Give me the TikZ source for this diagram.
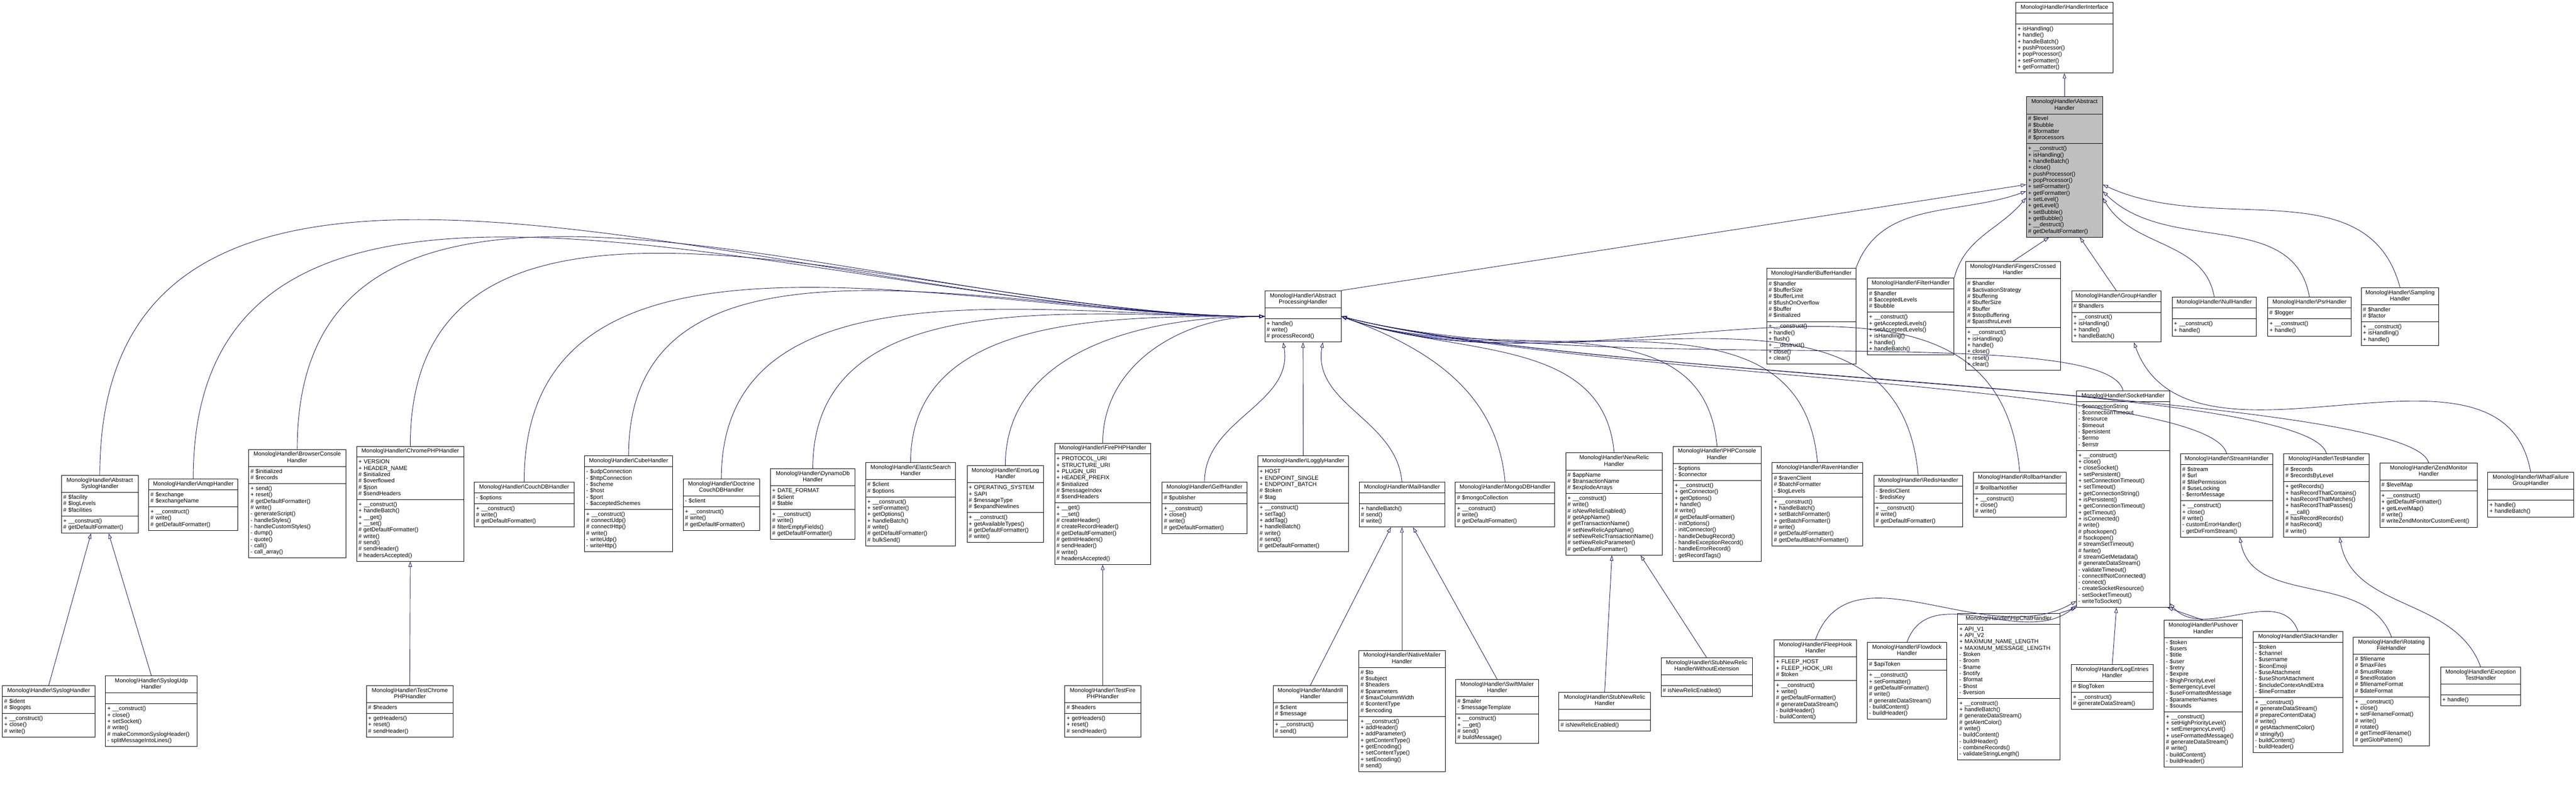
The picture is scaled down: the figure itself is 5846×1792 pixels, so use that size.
\documentclass[tikz,border=0pt]{standalone}
\usepackage{fontspec}
\setmainfont{Liberation Sans}
\usetikzlibrary{shapes.multipart,arrows.meta,calc}
\definecolor{EdgeBlue}{RGB}{25,25,112}
\definecolor{BaseGray}{RGB}{191,191,191}
\newcommand{\mh}{Monolog\textbackslash Handler\textbackslash }
\newcommand{\ct}{+ \_\_construct()}
\newcommand{\umlclass}[8][]{%
  \pgfmathsetlengthmacro\ucw{#5*0.01cm-0.08cm}%
  \node[umlbox,#1,text width=\ucw] (#2) at (#3,#4)
    {\centering\strut #6\strut\par\nodepart{two}\strut #7\strut\nodepart{three}\strut #8\strut};}

\begin{document}
\begin{tikzpicture}[
        x=0.01cm, y=-0.01cm,
        umlbox/.style={draw, line width=0.3pt, fill=white, anchor=north west,
                       rectangle split, rectangle split parts=3, align=left,
                       inner xsep=0.04cm, inner ysep=0.045cm,
                       font=\fontsize{3.7}{4.1}\selectfont},
        inh/.style={draw=EdgeBlue, line width=0.3pt,
                    -{Triangle[open,length=0.12cm,width=0.08cm]}}
    ]
        \useasboundingbox (0,0) rectangle (5846,1792);

        \umlclass{ifc}{4574}{5}{221}{\mh HandlerInterface}{}{+ isHandling()\\+ handle()\\+ handleBatch()\\+ pushProcessor()\\+ popProcessor()\\+ setFormatter()\\+ getFormatter()}
        \umlclass[fill=BaseGray]{ah}{4598}{219}{173}{\mh Abstract\\Handler}{\# \$level\\\# \$bubble\\\# \$formatter\\\# \$processors}{\ct\\+ isHandling()\\+ handleBatch()\\+ close()\\+ pushProcessor()\\+ popProcessor()\\+ setFormatter()\\+ getFormatter()\\+ setLevel()\\+ getLevel()\\+ setBubble()\\+ getBubble()\\+ \_\_destruct()\\\# getDefaultFormatter()}
        \umlclass{aph}{2870}{659}{173}{\mh Abstract\\ProcessingHandler}{}{+ handle()\\\# write()\\\# processRecord()}

        \umlclass{buffer}{4009}{608}{202}{\mh BufferHandler}{\# \$handler\\\# \$bufferSize\\\# \$bufferLimit\\\# \$flushOnOverflow\\\# \$buffer\\\# \$initialized}{\ct\\+ handle()\\+ flush()\\+ \_\_destruct()\\+ close()\\+ clear()}
        \umlclass{filter}{4237}{630}{197}{\mh FilterHandler}{\# \$handler\\\# \$acceptedLevels\\\# \$bubble}{\ct\\+ getAcceptedLevels()\\+ setAcceptedLevels()\\+ isHandling()\\+ handle()\\+ handleBatch()}
        \umlclass{fingers}{4460}{593}{215}{\mh FingersCrossed\\Handler}{\# \$handler\\\# \$activationStrategy\\\# \$buffering\\\# \$bufferSize\\\# \$buffer\\\# \$stopBuffering\\\# \$passthruLevel}{\ct\\+ isHandling()\\+ handle()\\+ close()\\+ reset()\\+ clear()}
        \umlclass{group}{4701}{659}{202}{\mh GroupHandler}{\# \$handlers}{\ct\\+ isHandling()\\+ handle()\\+ handleBatch()}
        \umlclass{null}{4929}{674}{191}{\mh NullHandler}{}{\ct\\+ handle()}
        \umlclass{psr}{5146}{674}{189}{\mh PsrHandler}{\# \$logger}{\ct\\+ handle()}
        \umlclass{sampling}{5358}{652}{176}{\mh Sampling\\Handler}{\# \$handler\\\# \$factor}{\ct\\+ isHandling()\\+ handle()}

        \umlclass{syslogbase}{139}{1078}{174}{\mh Abstract\\SyslogHandler}{\# \$facility\\\# \$logLevels\\\# \$facilities}{\ct\\\# getDefaultFormatter()}
        \umlclass{amqp}{337}{1086}{202}{\mh AmqpHandler}{\# \$exchange\\\# \$exchangeName}{\ct\\\# write()\\\# getDefaultFormatter()}
        \umlclass{browser}{564}{1019}{220}{\mh BrowserConsole\\Handler}{\# \$initialized\\\# \$records}{+ send()\\+ reset()\\\# getDefaultFormatter()\\\# write()\\- generateScript()\\- handleStyles()\\- handleCustomStyles()\\- dump()\\- quote()\\- call()\\- call\_array()}
        \umlclass{chrome}{809}{1012}{243}{\mh ChromePHPHandler}{+ VERSION\\+ HEADER\_NAME\\\# \$initialized\\\# \$overflowed\\\# \$json\\\# \$sendHeaders}{\ct\\+ handleBatch()\\+ \_\_get()\\+ \_\_set()\\\# getDefaultFormatter()\\\# write()\\\# send()\\\# sendHeader()\\\# headersAccepted()}
        \umlclass{couchdb}{1076}{1093}{226}{\mh CouchDBHandler}{- \$options}{\ct\\\# write()\\\# getDefaultFormatter()}
        \umlclass{cube}{1326}{1034}{200}{\mh CubeHandler}{- \$udpConnection\\- \$httpConnection\\- \$scheme\\- \$host\\- \$port\\- \$acceptedSchemes}{\ct\\\# connectUdp()\\\# connectHttp()\\\# write()\\- writeUdp()\\- writeHttp()}
        \umlclass{doctrine}{1550}{1086}{173}{\mh Doctrine\\CouchDBHandler}{- \$client}{\ct\\\# write()\\\# getDefaultFormatter()}
        \umlclass{dynamo}{1748}{1063}{192}{\mh DynamoDb\\Handler}{+ DATE\_FORMAT\\\# \$client\\\# \$table}{\ct\\\# write()\\\# filterEmptyFields()\\\# getDefaultFormatter()}
        \umlclass{elastic}{1964}{1049}{204}{\mh ElasticSearch\\Handler}{\# \$client\\\# \$options}{\ct\\+ setFormatter()\\+ getOptions()\\+ handleBatch()\\\# write()\\\# getDefaultFormatter()\\\# bulkSend()}
        \umlclass{errorlog}{2194}{1056}{174}{\mh ErrorLog\\Handler}{+ OPERATING\_SYSTEM\\+ SAPI\\\# \$messageType\\\# \$expandNewlines}{\ct\\+ getAvailableTypes()\\\# getDefaultFormatter()\\\# write()}
        \umlclass{firephp}{2393}{1005}{218}{\mh FirePHPHandler}{+ PROTOCOL\_URI\\+ STRUCTURE\_URI\\+ PLUGIN\_URI\\+ HEADER\_PREFIX\\\# \$initialized\\\# \$messageIndex\\\# \$sendHeaders}{+ \_\_get()\\+ \_\_set()\\\# createHeader()\\\# createRecordHeader()\\\# getDefaultFormatter()\\\# getInitHeaders()\\\# sendHeader()\\\# write()\\\# headersAccepted()}
        \umlclass{gelf}{2637}{1093}{192}{\mh GelfHandler}{\# \$publisher}{\ct\\+ close()\\\# write()\\\# getDefaultFormatter()}
        \umlclass{loggly}{2854}{1034}{206}{\mh LogglyHandler}{+ HOST\\+ ENDPOINT\_SINGLE\\+ ENDPOINT\_BATCH\\\# \$token\\\# \$tag}{\ct\\+ setTag()\\+ addTag()\\+ handleBatch()\\\# write()\\\# send()\\\# getDefaultFormatter()}
        \umlclass{mail}{3084}{1093}{194}{\mh MailHandler}{}{+ handleBatch()\\\# send()\\\# write()}
        \umlclass{mongo}{3302}{1093}{226}{\mh MongoDBHandler}{\# \$mongoCollection}{\ct\\\# write()\\\# getDefaultFormatter()}
        \umlclass{newrelic}{3553}{1027}{219}{\mh NewRelic\\Handler}{\# \$appName\\\# \$transactionName\\\# \$explodeArrays}{\ct\\\# write()\\\# isNewRelicEnabled()\\\# getAppName()\\\# getTransactionName()\\\# setNewRelicAppName()\\\# setNewRelicTransactionName()\\\# setNewRelicParameter()\\\# getDefaultFormatter()}
        \umlclass{phpconsole}{3796}{1012}{200}{\mh PHPConsole\\Handler}{- \$options\\- \$connector}{\ct\\+ getConnector()\\+ getOptions()\\+ handle()\\\# write()\\\# getDefaultFormatter()\\- initOptions()\\- initConnector()\\- handleDebugRecord()\\- handleExceptionRecord()\\- handleErrorRecord()\\- getRecordTags()}
        \umlclass{raven}{4021}{1049}{206}{\mh RavenHandler}{\# \$ravenClient\\\# \$batchFormatter\\- \$logLevels}{\ct\\+ handleBatch()\\+ setBatchFormatter()\\+ getBatchFormatter()\\\# write()\\\# getDefaultFormatter()\\\# getDefaultBatchFormatter()}
        \umlclass{redis}{4252}{1078}{201}{\mh RedisHandler}{- \$redisClient\\- \$redisKey}{\ct\\\# write()\\\# getDefaultFormatter()}
        \umlclass{rollbar}{4478}{1071}{210}{\mh RollbarHandler}{\# \$rollbarNotifier}{\ct\\+ close()\\\# write()}
        \umlclass{socket}{4712}{886}{211}{\mh SocketHandler}{- \$connectionString\\- \$connectionTimeout\\- \$resource\\- \$timeout\\- \$persistent\\- \$errno\\- \$errstr}{\ct\\+ close()\\+ closeSocket()\\+ setPersistent()\\+ setConnectionTimeout()\\+ setTimeout()\\+ getConnectionString()\\+ isPersistent()\\+ getConnectionTimeout()\\+ getTimeout()\\+ isConnected()\\\# write()\\\# pfsockopen()\\\# fsockopen()\\\# streamSetTimeout()\\\# fwrite()\\\# streamGetMetadata()\\\# generateDataStream()\\- validateTimeout()\\- connectIfNotConnected()\\- connect()\\- createSocketResource()\\- setSocketTimeout()\\- writeToSocket()}
        \umlclass{stream}{4948}{1029}{209}{\mh StreamHandler}{\# \$stream\\\# \$url\\\# \$filePermission\\\# \$useLocking\\- \$errorMessage}{\ct\\+ close()\\\# write()\\- customErrorHandler()\\- getDirFromStream()}
        \umlclass{test}{5182}{1029}{194}{\mh TestHandler}{\# \$records\\\# \$recordsByLevel}{+ getRecords()\\+ hasRecordThatContains()\\+ hasRecordThatMatches()\\+ hasRecordThatPasses()\\+ \_\_call()\\\# hasRecordRecords()\\\# hasRecord()\\\# write()}
        \umlclass{zend}{5400}{1050}{222}{\mh ZendMonitor\\Handler}{\# \$levelMap}{\ct\\+ getDefaultFormatter()\\+ getLevelMap()\\\# write()\\\# writeZendMonitorCustomEvent()}
        \umlclass{whatfailure}{5645}{1071}{195}{\mh WhatFailure\\GroupHandler}{}{+ handle()\\+ handleBatch()}

        \umlclass{syslog}{5}{1555}{210}{\mh SyslogHandler}{\# \$ident\\\# \$logopts}{\ct\\+ close()\\\# write()}
        \umlclass{syslogudp}{239}{1533}{208}{\mh SyslogUdp\\Handler}{}{\ct\\+ close()\\+ setSocket()\\\# write()\\\# makeCommonSyslogHeader()\\- splitMessageIntoLines()}
        \umlclass{testchrome}{831}{1555}{197}{\mh TestChrome\\PHPHandler}{\# \$headers}{+ getHeaders()\\+ reset()\\\# sendHeader()}
        \umlclass{testfire}{2416}{1555}{172}{\mh TestFire\\PHPHandler}{\# \$headers}{+ getHeaders()\\+ reset()\\\# sendHeader()}
        \umlclass{mandrill}{2889}{1555}{168}{\mh Mandrill\\Handler}{\# \$client\\\# \$message}{\ct\\\# send()}
        \umlclass{nativemailer}{3083}{1475}{196}{\mh NativeMailer\\Handler}{\# \$to\\\# \$subject\\\# \$headers\\\# \$parameters\\\# \$maxColumnWidth\\\# \$contentType\\\# \$encoding}{\ct\\+ addHeader()\\+ addParameter()\\+ getContentType()\\+ getEncoding()\\+ setContentType()\\+ setEncoding()\\\# send()}
        \umlclass{swiftmailer}{3303}{1541}{188}{\mh SwiftMailer\\Handler}{\# \$mailer\\- \$messageTemplate}{\ct\\+ \_\_get()\\\# send()\\\# buildMessage()}
        \umlclass{stubrelic}{3537}{1570}{208}{\mh StubNewRelic\\Handler}{}{\# isNewRelicEnabled()}
        \umlclass{stubrelicext}{3769}{1492}{207}{\mh StubNewRelic\\HandlerWithoutExtension}{}{\# isNewRelicEnabled()}
        \umlclass{fleephook}{4026}{1451}{187}{\mh FleepHook\\Handler}{+ FLEEP\_HOST\\+ FLEEP\_HOOK\_URI\\\# \$token}{\ct\\+ write()\\\# getDefaultFormatter()\\\# generateDataStream()\\- buildHeader()\\- buildContent()}
        \umlclass{flowdock}{4237}{1457}{180}{\mh Flowdock\\Handler}{\# \$apiToken}{\ct\\+ setFormatter()\\\# getDefaultFormatter()\\\# write()\\\# generateDataStream()\\- buildContent()\\- buildHeader()}
        \umlclass{hipchat}{4442}{1391}{232}{\mh HipChatHandler}{+ API\_V1\\+ API\_V2\\+ MAXIMUM\_NAME\_LENGTH\\+ MAXIMUM\_MESSAGE\_LENGTH\\- \$token\\- \$room\\- \$name\\- \$notify\\- \$format\\- \$host\\- \$version}{\ct\\+ handleBatch()\\\# generateDataStream()\\\# getAlertColor()\\\# write()\\- buildContent()\\- buildHeader()\\- combineRecords()\\- validateStringLength()}
        \umlclass{logentries}{4700}{1507}{186}{\mh LogEntries\\Handler}{\# \$logToken}{\ct\\\# generateDataStream()}
        \umlclass{pushover}{4911}{1407}{177}{\mh Pushover\\Handler}{- \$token\\- \$users\\- \$title\\- \$user\\- \$retry\\- \$expire\\- \$highPriorityLevel\\- \$emergencyLevel\\- \$useFormattedMessage\\- \$parameterNames\\- \$sounds}{\ct\\+ setHighPriorityLevel()\\+ setEmergencyLevel()\\+ useFormattedMessage()\\\# generateDataStream()\\\# write()\\- buildContent()\\- buildHeader()}
        \umlclass{slack}{5113}{1432}{203}{\mh SlackHandler}{- \$token\\- \$channel\\- \$username\\- \$iconEmoji\\- \$useAttachment\\- \$useShortAttachment\\- \$includeContextAndExtra\\- \$lineFormatter}{\ct\\\# generateDataStream()\\\# prepareContentData()\\\# write()\\\# getAttachmentColor()\\\# stringify()\\- buildContent()\\- buildHeader()}
        \umlclass{rotating}{5340}{1445}{173}{\mh Rotating\\FileHandler}{\# \$filename\\\# \$maxFiles\\\# \$mustRotate\\\# \$nextRotation\\\# \$filenameFormat\\\# \$dateFormat}{\ct\\+ close()\\+ setFilenameFormat()\\\# write()\\\# rotate()\\\# getTimedFilename()\\\# getGlobPattern()}
        \umlclass{exceptiontest}{5538}{1513}{182}{\mh Exception\\TestHandler}{}{+ handle()}

        \draw[inh] (ah.north) -- (ifc.south);
        \draw[inh] (aph.north east) -- ($(ah.west)+(0,40)$);
        \draw[inh] (buffer.north east) to[out=70,in=-160] ($(ah.west)+(0,55)$);
        \draw[inh] (filter.north east) to[out=75,in=-130] ($(ah.west)+(0,70)$);
        \draw[inh] (fingers.north) -- ($(ah.south)+(-35,0)$);
        \draw[inh] (group.north) -- ($(ah.south)+(35,0)$);
        \draw[inh] (null.north) to[out=100,in=-60] ($(ah.east)+(0,70)$);
        \draw[inh] (psr.north) to[out=100,in=-45] ($(ah.east)+(0,55)$);
        \draw[inh] (sampling.north) to[out=105,in=-25] ($(ah.east)+(0,40)$);

        \foreach \c in {syslogbase, amqp, browser, chrome, couchdb, cube, doctrine, dynamo, elastic, errorlog, firephp}
            \draw[inh] (\c.north) to[out=90,in=180] (aph.west);
        \draw[inh] (gelf.north) to[out=90,in=-80] ($(aph.south)+(-45,0)$);
        \draw[inh] (loggly.north) -- (aph.south);
        \draw[inh] (mail.north) to[out=95,in=-100] ($(aph.south)+(45,0)$);
        \foreach \c in {mongo, newrelic, phpconsole, raven, redis, rollbar}
            \draw[inh] (\c.north) to[out=95,in=-20] (aph.east);
        \foreach \c in {socket, stream, test, zend}
            \draw[inh] (\c.north) .. controls ($(\c.north)+(-40,-160)$) and (3600,860) .. (aph.east);

        \draw[inh] (syslog.north) -- ($(syslogbase.south)+(-20,0)$);
        \draw[inh] (syslogudp.north) -- ($(syslogbase.south)+(20,0)$);
        \draw[inh] (testchrome.north) -- (chrome.south);
        \draw[inh] (testfire.north) -- (firephp.south);
        \draw[inh] (mandrill.north) -- ($(mail.south)+(-25,0)$);
        \draw[inh] (nativemailer.north) -- (mail.south);
        \draw[inh] (swiftmailer.north) -- ($(mail.south)+(25,0)$);
        \draw[inh] (stubrelic.north) -- ($(newrelic.south)+(-5,0)$);
        \draw[inh] (stubrelicext.north) -- ($(newrelic.south)+(60,0)$);
        \draw[inh] (fleephook.north) to[out=70,in=-150] ($(socket.south west)+(0,-15)$);
        \draw[inh] (flowdock.north) to[out=70,in=-140] ($(socket.south west)+(0,-5)$);
        \draw[inh] (hipchat.north east) -- (socket.south west);
        \draw[inh] (logentries.north) -- ($(socket.south)+(-15,0)$);
        \draw[inh] (pushover.north) -- ($(socket.south east)+(-5,0)$);
        \draw[inh] (slack.north) to[out=110,in=-50] ($(socket.south east)+(0,-10)$);
        \draw[inh] (rotating.north) to[out=110,in=-80] ($(stream.south)+(30,0)$);
        \draw[inh] (exceptiontest.north) to[out=110,in=-80] ($(test.south)+(30,0)$);
        \draw[inh] (whatfailure.north) to[out=100,in=-70] ($(group.south)+(40,0)$);
    \end{tikzpicture}
\end{document}
